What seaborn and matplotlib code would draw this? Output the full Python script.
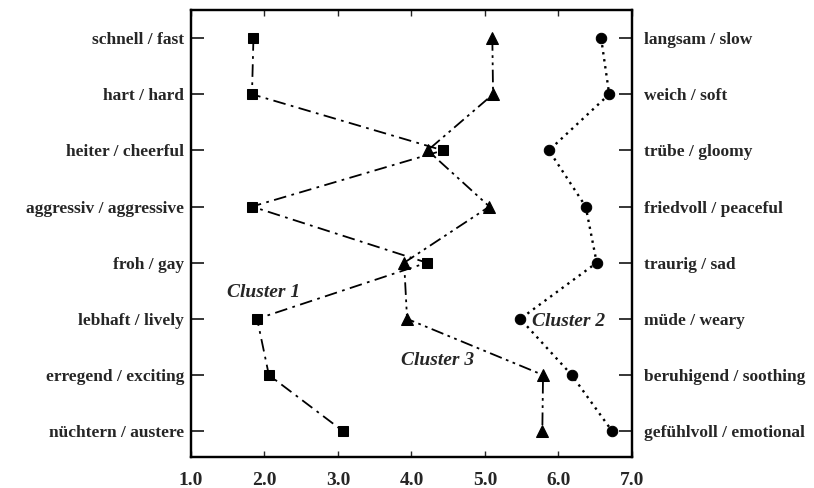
import matplotlib
matplotlib.use("Agg")
import matplotlib.pyplot as plt
import seaborn as sns
import numpy as np
import pandas as pd

# semantic differential scales (left pole / right pole)
left_labels = ["schnell / fast", "hart / hard", "heiter / cheerful",
               "aggressiv / aggressive", "froh / gay", "lebhaft / lively",
               "erregend / exciting", "nüchtern / austere"]
right_labels = ["langsam / slow", "weich / soft", "trübe / gloomy",
                "friedvoll / peaceful", "traurig / sad", "müde / weary",
                "beruhigend / soothing", "gefühlvoll / emotional"]

# mean ratings per cluster (1..7)
cluster1 = [1.85, 1.83, 4.43, 1.83, 4.21, 1.90, 2.06, 3.07]
cluster2 = [6.58, 6.69, 5.87, 6.37, 6.52, 5.48, 6.18, 6.73]
cluster3 = [5.10, 5.11, 4.22, 5.06, 3.90, 3.94, 5.79, 5.78]

x_ticks = [1.0, 2.0, 3.0, 4.0, 5.0, 6.0, 7.0]

sns.set_theme(style="ticks")
plt.rcParams["font.family"] = ["Liberation Serif", "DejaVu Serif"]

rows = np.arange(len(left_labels))
df = pd.DataFrame({"row": rows, "c1": cluster1, "c2": cluster2, "c3": cluster3})

fig = plt.figure(figsize=(8.14, 4.88), dpi=100)
ax = fig.add_axes([0.2346, 0.0635, 0.5418, 0.916])

sns.lineplot(data=df, x="c1", y="row", sort=False, orient="y", ax=ax,
             color="black", lw=1.3, linestyle=(0, (7, 3, 1.5, 3)),
             marker="s", markersize=7, markeredgecolor="black")
sns.lineplot(data=df, x="c3", y="row", sort=False, orient="y", ax=ax,
             color="black", lw=1.3, linestyle=(0, (7, 2.5, 1.5, 2.5, 1.5, 2.5)),
             marker="^", markersize=8, markeredgecolor="black")
sns.lineplot(data=df, x="c2", y="row", sort=False, orient="y", ax=ax,
             color="black", lw=1.7, linestyle=(0, (1, 2)),
             marker="o", markersize=7.5, markeredgecolor="black")

ax.set_xlim(1.0, 7.0)
ax.set_ylim(7.46, -0.5)
ax.set_xticks(x_ticks)
ax.set_xticklabels([f"{t:.1f}" for t in x_ticks], fontsize=14, fontweight="bold")
ax.set_yticks(rows)
ax.set_yticklabels(left_labels, fontsize=12.5, fontweight="bold")
ax.set_xlabel("")
ax.set_ylabel("")
ax.tick_params(axis="y", direction="in", length=9.5, width=1.3, pad=5)
ax.tick_params(axis="x", direction="in", length=4, width=1.0, pad=11, top=True)

ax2 = ax.twinx()
ax2.set_ylim(ax.get_ylim())
ax2.set_yticks(rows)
ax2.set_yticklabels(right_labels, fontsize=12.5, fontweight="bold")
ax2.tick_params(axis="y", direction="in", length=9.5, width=1.3, pad=9)

for a in (ax, ax2):
    for s in a.spines.values():
        s.set_visible(True)
        s.set_linewidth(1.6)
        s.set_color("black")

txt = dict(fontsize=14, fontweight="bold", fontstyle="italic", ha="center", va="center")
ax.text(1.99, 4.53, "Cluster 1", **txt)
ax.text(4.35, 5.75, "Cluster 3", **txt)
ax.text(6.14, 5.04, "Cluster 2", **txt)

fig.savefig("out.png", dpi=100)
